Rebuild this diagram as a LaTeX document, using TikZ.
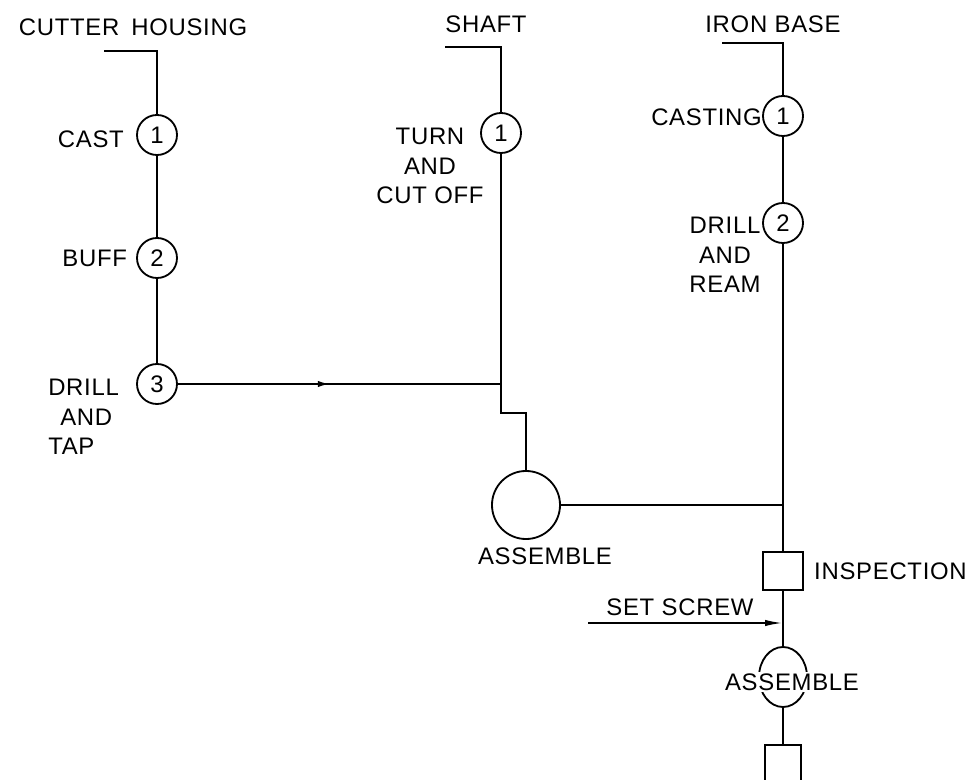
\documentclass[tikz,border=0pt]{standalone}
\usepackage{fontspec}
\setmainfont[LetterSpace=3]{Liberation Sans}
\usetikzlibrary{arrows.meta,decorations.markings,shapes.geometric,positioning}

\begin{document}
\begin{tikzpicture}[x=0.025cm,y=-0.025cm,font=\fontsize{17}{21}\selectfont,flow/.style={draw=black,line width=1.4pt},op/.style={circle,draw=black,line width=1.3pt,minimum size=1cm,inner sep=0pt},inspbox/.style={rectangle,draw=black,line width=1.3pt,minimum width=1cm,minimum height=0.95cm,inner sep=0pt},lbl/.style={inner sep=0pt,align=center},midarrow/.style={postaction={decorate},decoration={markings,mark=at position 0.47 with {\arrow{Latex[length=3mm,width=1.6mm]}}}}]
\useasboundingbox (0,0) rectangle (973,780);
% cutter housing
\node[lbl] (chname) at (133,27) {CUTTER\enspace HOUSING};
\coordinate (chtop) at (104,51);
\node[op] (ch1) at (157,135) {1};
\node[op] (ch2) at (157,258) {2};
\node[op] (ch3) at (157,384) {3};
\node[lbl,left=0.3cm of ch1,yshift=-3pt] (chcast) {CAST};
\node[lbl,left=0.22cm of ch2] (chbuff) {BUFF};
\node[lbl,align=left,anchor=north west] (chdrill) at (48,379) {DRILL\\\hspace{0.3cm}AND\\TAP};
% shaft
\node[lbl] (shname) at (486,24) {SHAFT};
\coordinate (shtop) at (445,47);
\node[op] (sh1) at (501,133) {1};
\node[lbl,anchor=north] (shturn) at (430,128) {TURN\\AND\\CUT OFF};
% iron base
\node[lbl] (ibname) at (773,24) {IRON BASE};
\coordinate (ibtop) at (722,43);
\node[op] (ib1) at (783,116) {1};
\node[op] (ib2) at (783,223) {2};
\node[lbl,left=0pt of ib1,yshift=-1pt] (ibcast) {CASTING};
\node[lbl,anchor=north] (ibdrill) at (725,217) {DRILL\\AND\\REAM};
% assembly
\node[op,minimum size=1.7cm] (asm1) at (526,505) {};
\node[lbl] (asm1lbl) at (545,556) {ASSEMBLE};
\node[inspbox] (insp) at (783,571) {};
\node[lbl,right=0.25cm of insp] (insplbl) {INSPECTION};
\coordinate (ssin) at (588,623);
\node[lbl] (sslbl) at (680,607) {SET SCREW};
\node[ellipse,draw=black,line width=1.3pt,minimum width=1.2cm,minimum height=1.5cm] (asm2) at (783,677) {};
\node[inspbox,minimum width=0.9cm,minimum height=0.9cm] (fin) at (783,763) {};
% flow lines
\draw[flow] (chtop) -| (ch1);
\draw[flow] (ch1) -- (ch2) -- (ch3);
\coordinate (j1) at (sh1 |- ch3);
\draw[flow,midarrow] (ch3) -- (j1);
\draw[flow] (shtop) -| (sh1);
\draw[flow] (sh1) -- (j1) -- ++(0,29) -| (asm1);
\draw[flow] (ibtop) -| (ib1);
\draw[flow] (ib1) -- (ib2) -- (insp);
\draw[flow] (asm1) -- (asm1 -| insp);
\draw[flow] (insp) -- (asm2);
\draw[flow] (asm2) -- (fin);
\draw[flow,-{Latex[length=4.5mm,width=1.6mm]}] (ssin) -- (ssin -| insp);
\node[lbl,fill=white,inner sep=1pt] (asm2lbl) at (792,682) {ASSEMBLE};
\end{tikzpicture}
\end{document}
